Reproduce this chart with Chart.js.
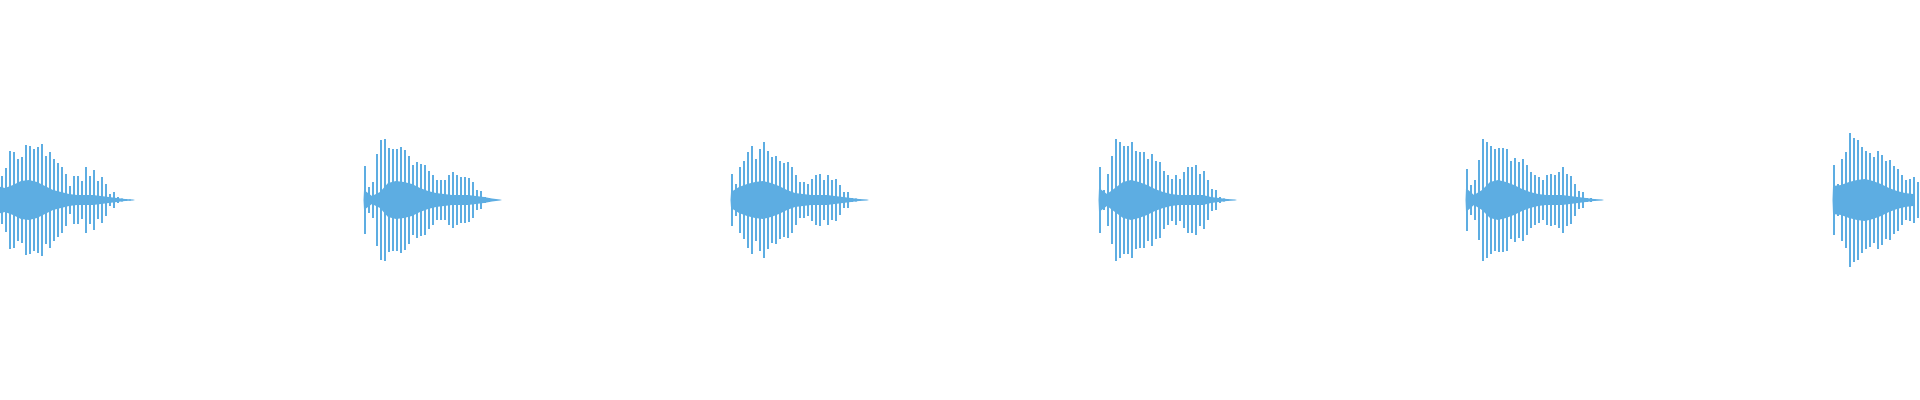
<!DOCTYPE html>
<html>
<head>
<meta charset="utf-8">
<style>
  * { margin: 0; padding: 0; box-sizing: border-box; }
  body { background: #ffffff; }
  .chartBox { width: 1920px; height: 400px; }
</style>
</head>
<body>
<div class="chartBox">
  <canvas id="wave"></canvas>
</div>

<script src="https://cdn.jsdelivr.net/npm/chart.js/dist/chart.umd.min.js"></script>
<script>
// time axis in samples, one burst of the sound every ~367 samples
const totalSamples = 1920;
const burstStart = [-3, 364, 731, 1099, 1466, 1833];
const peakStep = 2;   // peak amplitude read every 2 samples
const coreStep = 8;   // body of the waveform read every 8 samples

// peak amplitude of each burst
const peaks1 = [30, 22, 24, 24, 31, 32, 48, 49, 36, 48, 41, 35, 42, 43, 24, 55, 54, 51, 51, 51,
  53, 52, 56, 56, 39, 44, 48, 25, 41, 24, 37, 19, 32, 33, 8, 26, 6, 14, 24, 18,
  24, 24, 19, 12, 5, 33, 24, 6, 23, 30, 19, 8, 23, 13, 16, 11, 3, 6, 8, 6,
  3, 2, 1.5, 1, 1, 0.5, 0.5];
const peaks2 = [28, 34, 13, 3, 8, 18, 32, 46, 42, 60, 54, 61, 51, 52, 48, 51, 35, 51, 42, 53,
  43, 50, 44, 41, 31, 35, 38, 38, 36, 29, 35, 29, 28, 29, 21, 25, 20, 16, 20, 13,
  20, 4, 23, 25, 11, 28, 25, 13, 23, 20, 11, 23, 22, 8, 13, 18, 8, 10, 9, 5,
  1.5, 3, 2, 0.5, 0.5, 0.5];
const peaks3 = [26, 24, 14, 16, 33, 25, 36, 39, 28, 48, 45, 54, 34, 41, 31, 51, 33, 58, 33, 49,
  28, 43, 20, 44, 24, 39, 37, 21, 38, 18, 29, 33, 25, 25, 13, 18, 11, 18, 16, 10,
  21, 13, 23, 25, 11, 26, 20, 16, 25, 23, 11, 20, 21, 8, 13, 15, 6, 8, 8, 6,
  2, 2, 1.5, 0.5, 0.5, 0.5];
const peaks4 = [33, 23, 6, 10, 26, 26, 44, 44, 35, 61, 58, 54, 54, 44, 54, 51, 54, 58, 49, 49,
  48, 44, 48, 38, 41, 35, 46, 38, 39, 35, 38, 31, 29, 26, 20, 25, 21, 18, 16, 25,
  21, 19, 28, 26, 16, 33, 33, 25, 35, 35, 15, 26, 29, 7, 15, 20, 8, 11, 10, 5,
  3, 3, 1.5, 0.5, 0.5, 0.5];
const peaks5 = [30, 31, 15, 5, 8, 20, 40, 33, 58, 61, 44, 58, 43, 54, 41, 51, 38, 52, 35, 52,
  31, 51, 16, 39, 17, 42, 30, 38, 41, 25, 35, 11, 25, 28, 10, 25, 23, 6, 20, 15,
  20, 25, 8, 26, 18, 25, 28, 10, 33, 30, 16, 26, 24, 8, 15, 16, 6, 9, 8, 3,
  2, 1.5, 2, 0.5, 0.5, 0.5];
const peaks6 = [23, 35, 15, 16, 21, 41, 38, 48, 51, 67, 50, 62, 33, 60, 53, 49, 49, 49, 47, 45,
  42, 43, 33, 49, 20, 45, 39, 31, 40, 16, 34, 28, 25, 31, 10, 25, 20, 11, 21, 14,
  21, 23, 16, 18];

// body (dense part) of each burst
const core1 = [14, 12, 15, 19, 20, 18, 14, 10, 8, 6, 5, 5, 5, 4, 3, 2, 1, 0.5];
const core2 = [10, 4, 8, 17, 19, 18, 16, 12, 9, 7, 6, 5, 5, 5, 4, 3, 1.5, 0.5];
const core3 = [8, 13, 16, 18, 19, 17, 14, 10, 7, 6, 5, 5, 5, 4, 3, 2, 1, 0.5];
const core4 = [12, 6, 12, 18, 20, 18, 15, 11, 8, 6, 5, 5, 5, 5, 3, 2, 1, 0.5];
const core5 = [12, 5, 10, 18, 20, 18, 15, 11, 8, 6, 5, 5, 5, 4, 3, 2, 1, 0.5];
const core6 = [14, 15, 18, 20, 21, 19, 16, 12, 9, 7, 6];

const peakSets = [peaks1, peaks2, peaks3, peaks4, peaks5, peaks6];
const coreSets = [core1, core2, core3, core4, core5, core6];

const waveColor = '#5dade2';

// like a waveform view: keep the highest peak of every two readings
const peakPoints = [];
const coreTop = [];
const coreBottom = [];
burstStart.forEach((start, b) => {
  const p = peakSets[b];
  for (let i = 0; i < p.length; i += 2) {
    const a = Math.max(p[i], p[i + 1] || 0);
    peakPoints.push({ x: start + i * peakStep + 1, y: [-a, a] });
  }
  coreTop.push({ x: start - 0.5, y: 0 });
  coreBottom.push({ x: start - 0.5, y: 0 });
  coreSets[b].forEach((a, i) => {
    coreTop.push({ x: start + i * coreStep, y: a });
    coreBottom.push({ x: start + i * coreStep, y: -a });
  });
  const endX = start + (coreSets[b].length - 1) * coreStep + 2;
  coreTop.push({ x: endX, y: 0 });
  coreBottom.push({ x: endX, y: 0 });
});

const config = {
  type: 'bar',
  data: {
    datasets: [
      {
        type: 'line',
        data: coreTop,
        borderWidth: 0,
        pointRadius: 0,
        tension: 0,
        fill: 'origin',
        backgroundColor: waveColor
      },
      {
        type: 'line',
        data: coreBottom,
        borderWidth: 0,
        pointRadius: 0,
        tension: 0,
        fill: 'origin',
        backgroundColor: waveColor
      },
      {
        type: 'bar',
        data: peakPoints,
        backgroundColor: waveColor,
        borderWidth: 0,
        barThickness: 2,
        inflateAmount: 0
      }
    ]
  },
  options: {
    responsive: true,
    maintainAspectRatio: false,
    animation: false,
    devicePixelRatio: 1,
    layout: { padding: 0 },
    plugins: {
      legend: { display: false },
      tooltip: { enabled: false }
    },
    scales: {
      x: { type: 'linear', min: 0, max: totalSamples, offset: false, display: false },
      y: { min: -200, max: 200, display: false }
    }
  }
};

const waveChart = new Chart(document.getElementById('wave'), config);
</script>
</body>
</html>
